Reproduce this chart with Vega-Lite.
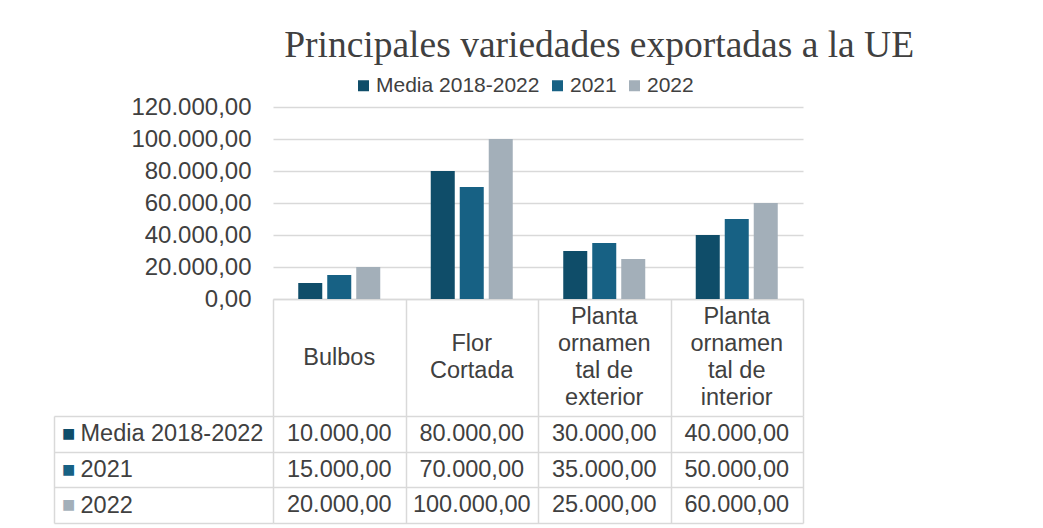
{
  "$schema": "https://vega.github.io/schema/vega-lite/v6.json",
  "padding": {"left": 53, "top": 26, "right": 5, "bottom": 5},
  "background": "white",
  "title": {"text": "Principales variedades exportadas a la UE", "font": "Liberation Serif", "fontSize": 37.5, "fontWeight": "normal", "color": "#404040", "anchor": "middle", "offset": 11, "dx": 171},
  "datasets": {
    "d": [
      {"categoria": "Bulbos", "serie": "Media 2018-2022", "valor": 10000},
      {"categoria": "Bulbos", "serie": "2021", "valor": 15000},
      {"categoria": "Bulbos", "serie": "2022", "valor": 20000},
      {"categoria": "Flor Cortada", "serie": "Media 2018-2022", "valor": 80000},
      {"categoria": "Flor Cortada", "serie": "2021", "valor": 70000},
      {"categoria": "Flor Cortada", "serie": "2022", "valor": 100000},
      {"categoria": "Planta ornamental de exterior", "serie": "Media 2018-2022", "valor": 30000},
      {"categoria": "Planta ornamental de exterior", "serie": "2021", "valor": 35000},
      {"categoria": "Planta ornamental de exterior", "serie": "2022", "valor": 25000},
      {"categoria": "Planta ornamental de interior", "serie": "Media 2018-2022", "valor": 40000},
      {"categoria": "Planta ornamental de interior", "serie": "2021", "valor": 50000},
      {"categoria": "Planta ornamental de interior", "serie": "2022", "valor": 60000}
    ],
    "h": [
      {"categoria": "Bulbos", "etiqueta": "Bulbos"},
      {"categoria": "Flor Cortada", "etiqueta": "Flor\nCortada"},
      {"categoria": "Planta ornamental de exterior", "etiqueta": "Planta\nornamen\ntal de\nexterior"},
      {"categoria": "Planta ornamental de interior", "etiqueta": "Planta\nornamen\ntal de\ninterior"}
    ]
  },
  "config": {
    "locale": {"number": {"decimal": ",", "thousands": ".", "grouping": [3], "currency": ["", " €"]}},
    "font": "Liberation Sans",
    "view": {"stroke": null},
    "axis": {"labelFont": "Liberation Sans", "labelColor": "#404040"}
  },
  "bounds": "flush",
  "spacing": 0,
  "vconcat": [
    {
      "width": 530,
      "height": 192,
      "data": {"name": "d"},
      "mark": {"type": "bar"},
      "encoding": {
        "x": {"field": "categoria", "type": "nominal", "sort": ["Bulbos", "Flor Cortada", "Planta ornamental de exterior", "Planta ornamental de interior"], "scale": {"paddingInner": 0, "paddingOuter": 0}, "axis": {"title": null, "labels": false, "ticks": false, "domain": true, "domainColor": "#d9d9d9", "domainWidth": 1.5}},
        "xOffset": {"field": "serie", "type": "nominal", "sort": ["Media 2018-2022", "2021", "2022"], "scale": {"paddingInner": 0.172, "paddingOuter": 0.871}},
        "y": {"field": "valor", "type": "quantitative", "scale": {"domain": [0, 120000]}, "axis": {"title": null, "values": [0, 20000, 40000, 60000, 80000, 100000, 120000], "format": ",.2f", "labelFontSize": 24, "labelPadding": 22, "ticks": false, "domain": false, "gridColor": "#d9d9d9", "gridWidth": 1.5}},
        "color": {"field": "serie", "type": "nominal", "sort": ["Media 2018-2022", "2021", "2022"], "scale": {"domain": ["Media 2018-2022", "2021", "2022"], "range": ["#0f4d69", "#176184", "#a3afb9"]}, "legend": {"orient": "none", "legendX": 80, "legendY": -32, "direction": "horizontal", "title": null, "symbolType": "square", "symbolSize": 121, "symbolStrokeWidth": 0, "labelFontSize": 21, "labelLimit": 0, "labelColor": "#404040", "labelFont": "Liberation Sans", "columnPadding": 7, "labelOffset": 2, "padding": 0}}
      }
    },
    {
      "width": 530,
      "height": 117,
      "data": {"name": "h"},
      "encoding": {
        "x": {"field": "categoria", "type": "nominal", "sort": ["Bulbos", "Flor Cortada", "Planta ornamental de exterior", "Planta ornamental de interior"], "scale": {"type": "band", "paddingInner": 0, "paddingOuter": 0}, "axis": {"title": null, "labels": false, "ticks": false, "domain": false, "grid": true, "tickBand": "extent", "gridColor": "#d9d9d9", "gridWidth": 1.5}},
        "text": {"field": "etiqueta"}
      },
      "layer": [
        {
          "transform": [{"filter": "datum.categoria === 'Bulbos'"}],
          "mark": {"type": "text", "lineBreak": "\n", "fontSize": 23.5, "lineHeight": 27, "color": "#404040", "baseline": "middle", "align": "center"}
        },
        {
          "transform": [{"filter": "datum.categoria === 'Flor Cortada'"}],
          "mark": {"type": "text", "lineBreak": "\n", "fontSize": 23.5, "lineHeight": 27, "color": "#404040", "baseline": "middle", "align": "center", "dy": -13.5}
        },
        {
          "transform": [{"filter": "indexof(datum.categoria, 'Planta') === 0"}],
          "mark": {"type": "text", "lineBreak": "\n", "fontSize": 23.5, "lineHeight": 27, "color": "#404040", "baseline": "middle", "align": "center", "dy": -40.5}
        }
      ]
    },
    {
      "width": 530,
      "height": 107,
      "data": {"name": "d"},
      "layer": [
        {
          "mark": {"type": "text", "fontSize": 23.5, "color": "#404040", "baseline": "middle", "align": "center"},
          "encoding": {
            "x": {"field": "categoria", "type": "nominal", "sort": ["Bulbos", "Flor Cortada", "Planta ornamental de exterior", "Planta ornamental de interior"], "scale": {"type": "band", "paddingInner": 0, "paddingOuter": 0}, "axis": {"title": null, "labels": false, "ticks": false, "domain": false, "grid": true, "tickBand": "extent", "gridColor": "#d9d9d9", "gridWidth": 1.5}},
            "y": {"field": "serie", "type": "nominal", "sort": ["Media 2018-2022", "2021", "2022"], "scale": {"type": "band", "paddingInner": 0, "paddingOuter": 0}, "axis": {"orient": "left", "title": null, "grid": true, "tickBand": "extent", "gridColor": "#d9d9d9", "gridWidth": 1.5, "ticks": true, "tickSize": 219, "tickColor": "#d9d9d9", "tickWidth": 1.5, "domain": false, "labelAlign": "left", "labelBaseline": "middle", "labelPadding": -26, "labelFontSize": 23.5, "labelLimit": 0}},
            "text": {"field": "valor", "type": "quantitative", "format": ",.2f"}
          }
        },
        {
          "mark": {"type": "text", "opacity": 0},
          "encoding": {
            "y": {"field": "serie", "type": "nominal", "sort": ["Media 2018-2022", "2021", "2022"], "scale": {"type": "band", "paddingInner": 0, "paddingOuter": 0}, "axis": {"orient": "left", "offset": 219, "title": null, "grid": false, "ticks": false, "domain": true, "domainColor": "#d9d9d9", "domainWidth": 1.5, "labelExpr": "'■'", "labelFont": "DejaVu Sans", "labelFontSize": 14, "labelAlign": "center", "labelBaseline": "middle", "labelPadding": -14, "labelColor": {"condition": [{"test": "datum.value === 'Media 2018-2022'", "value": "#0f4d69"}, {"test": "datum.value === '2021'", "value": "#176184"}], "value": "#a3afb9"}}},
            "text": {"value": ""}
          }
        }
      ],
      "resolve": {"axis": {"y": "independent"}}
    }
  ]
}
